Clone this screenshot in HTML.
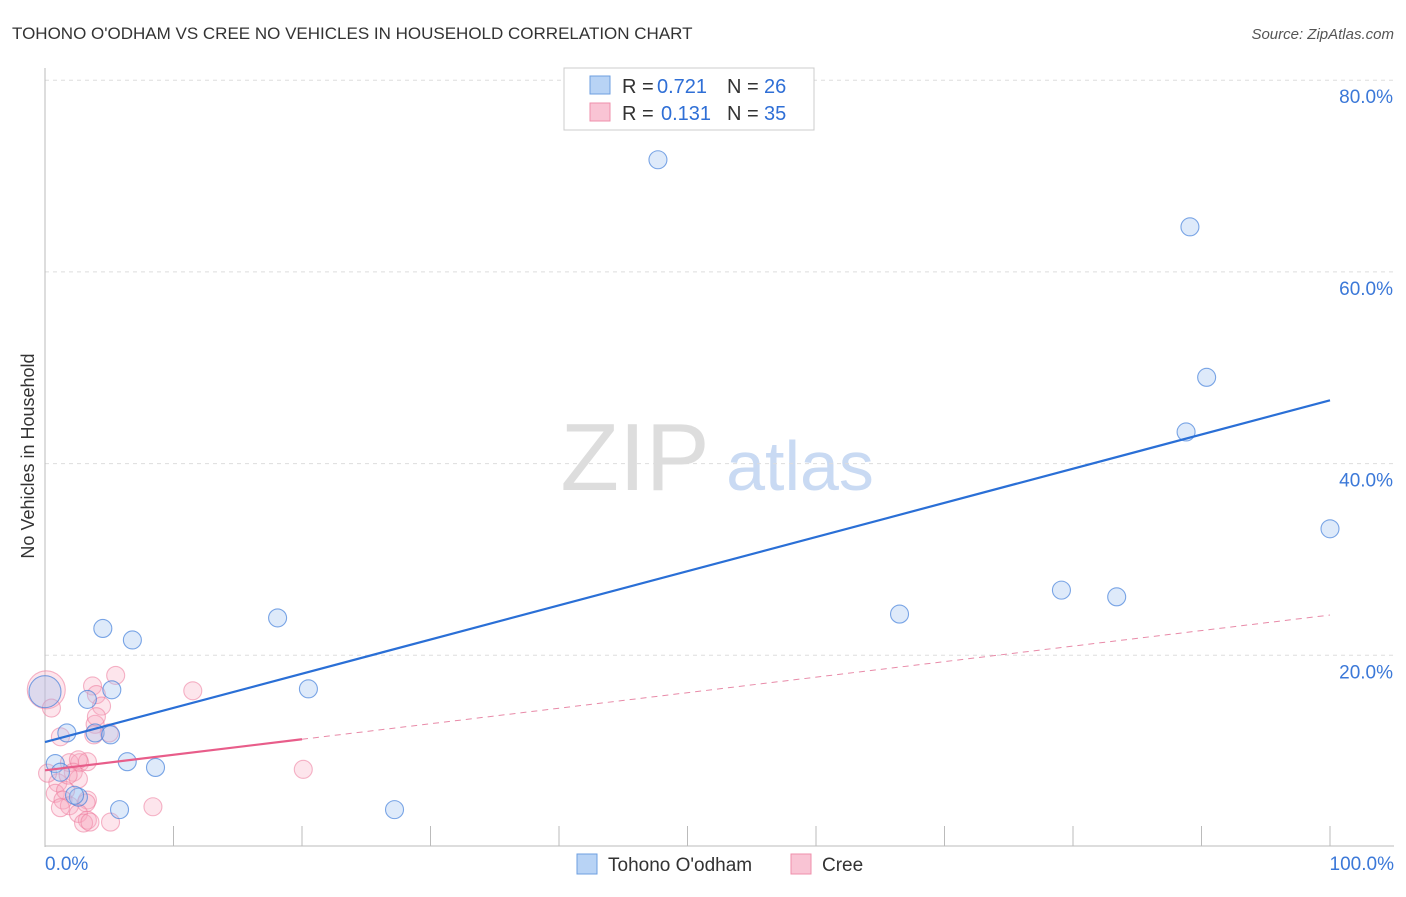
<!DOCTYPE html>
<html><head><meta charset="utf-8"><style>
body{margin:0;background:#fff;font-family:"Liberation Sans",sans-serif}
svg text{font-family:"Liberation Sans",sans-serif}
</style></head><body>
<svg id="c" width="1406" height="892">
<text x="12" y="39" font-size="17" fill="#333">TOHONO O'ODHAM VS CREE NO VEHICLES IN HOUSEHOLD CORRELATION CHART</text>
<text x="1394" y="39" font-size="15" fill="#555" font-style="italic" text-anchor="end">Source: ZipAtlas.com</text>
<text x="34" y="456" font-size="18" fill="#333" text-anchor="middle" transform="rotate(-90 34 456)">No Vehicles in Household</text>
<text x="635" y="490" font-size="96" fill="#ddd" font-family="Liberation Serif" text-anchor="middle">ZIP</text>
<text x="800" y="490" font-size="70" fill="#c9daf3" text-anchor="middle">atlas</text>
<g id="grid"></g><g id="pts"></g><g id="lines"></g>
<g>
<rect x="564" y="68" width="250" height="62" fill="#fff" stroke="#ccc"/>
<rect x="590" y="76" width="20" height="18" fill="#b8d3f5" stroke="#6e9fe0"/>
<rect x="590" y="103" width="20" height="18" fill="#f9c4d4" stroke="#ef8fab"/>
<text y="93" font-size="20" fill="#333"><tspan x="622">R =</tspan><tspan x="657" fill="#2f6fd6">0.721</tspan><tspan x="727">N =</tspan><tspan x="764" fill="#2f6fd6">26</tspan></text>
<text y="120" font-size="20" fill="#333"><tspan x="622">R =</tspan><tspan x="661" fill="#2f6fd6">0.131</tspan><tspan x="727">N =</tspan><tspan x="764" fill="#2f6fd6">35</tspan></text>
</g>
<g>
<rect x="577" y="854" width="20" height="20" fill="#b8d3f5" stroke="#6e9fe0"/>
<text x="608" y="871" font-size="19" fill="#333">Tohono O'odham</text>
<rect x="791" y="854" width="20" height="20" fill="#f9c4d4" stroke="#ef8fab"/>
<text x="822" y="871" font-size="19" fill="#333">Cree</text>
</g>
</svg>
<script>
const blueX=[47.7,89.1,90.4,88.8,100,79.1,83.4,66.5,18.1,4.5,6.8,20.5,5.2,3.3,1.7,3.9,5.1,6.4,8.6,0.8,1.2,2.6,5.8,27.2,0,2.3];
const blueY=[71.7,64.7,49.0,43.3,33.2,26.8,26.1,24.3,23.9,22.8,21.6,16.5,16.4,15.4,11.9,11.9,11.7,8.9,8.3,8.7,7.8,5.2,3.9,3.9,16.2,5.4];
const pinkX=[0.1,0.5,1.2,5.5,3.7,4.0,4.4,3.9,3.8,5.0,11.5,20.1,1.9,2.7,3.3,2.6,2.2,2.6,1.0,0.8,1.6,1.4,1.9,1.2,3.3,3.2,2.6,3.3,3.0,3.5,5.1,8.4,0.2,1.8,4.0];
const pinkY=[16.4,14.5,11.5,17.9,16.8,15.9,14.7,12.8,11.7,11.9,16.3,8.1,8.8,8.8,8.9,9.1,7.8,7.1,6.7,5.6,5.9,4.9,4.3,4.1,4.9,4.6,3.5,2.8,2.5,2.6,2.6,4.2,7.7,7.5,13.6];
const yTicks=[20,40,60,80];
const blueTrend=[10.95,46.6];
const pinkTrend=[8.0,24.2];
const sx=v=>45+v*12.85, sy=v=>847-v*9.585;
const NS="http://www.w3.org/2000/svg";
function mk(t,a,p){const e=document.createElementNS(NS,t);for(const k in a)e.setAttribute(k,a[k]);p.appendChild(e);return e;}
const grid=document.getElementById('grid'),pts=document.getElementById('pts'),lines=document.getElementById('lines');
yTicks.forEach(t=>{
 const l=mk('line',{x1:45,x2:1394,y1:sy(t),y2:sy(t),stroke:'#ddd','stroke-dasharray':'4,4'},grid);
 
 
 const tx=mk('text',{x:1393,y:sy(t)+23,'font-size':19,fill:'#3b78d8','text-anchor':'end'},grid);
 tx.textContent=t.toFixed(1)+'%';
 
 
});
const ax=mk('line',{x1:45,x2:45,y1:68,y2:847,stroke:'#bbb'},grid);


const bx=mk('line',{x1:45,x2:1394,y1:846,y2:846,stroke:'#bbb'},grid);


for(let i=1;i<=10;i++){const tk=mk('line',{x1:45+i*128.5,x2:45+i*128.5,y1:826,y2:846,stroke:'#bbb'},grid);
 
 }
[['0.0%',45,'start'],['100.0%',1394,'end']].forEach(d=>{const t=mk('text',{x:d[1],y:870,'font-size':19,fill:'#3b78d8','text-anchor':d[2]},grid);t.textContent=d[0];
 
 });
pinkX.forEach((x,i)=>{const c=mk('circle',{cx:sx(x),cy:sy(pinkY[i]),r:i==0?19:9,fill:'rgba(247,168,192,0.3)',stroke:'rgba(236,120,155,0.55)','stroke-width':1.1},pts);
 
 });
blueX.forEach((x,i)=>{const c=mk('circle',{cx:sx(x),cy:sy(blueY[i]),r:i==24?16:9,fill:'rgba(160,196,240,0.35)',stroke:'rgba(70,130,220,0.7)','stroke-width':1.1},pts);
 
 });
const bl=mk('line',{x1:sx(0),y1:sy(blueTrend[0]),x2:sx(100),y2:sy(blueTrend[1]),stroke:'#2a6fd6','stroke-width':2.2},lines);


const pv=x=>pinkTrend[0]+(pinkTrend[1]-pinkTrend[0])*x/100;
const ps=mk('line',{x1:sx(0),y1:sy(pv(0)),x2:sx(20),y2:sy(pv(20)),stroke:'#e85d8a','stroke-width':2.2},lines);


const pd=mk('line',{x1:sx(20),y1:sy(pv(20)),x2:sx(100),y2:sy(pv(100)),stroke:'#e88aa8','stroke-width':1,'stroke-dasharray':'6,5'},lines);


</script>
</body></html>
